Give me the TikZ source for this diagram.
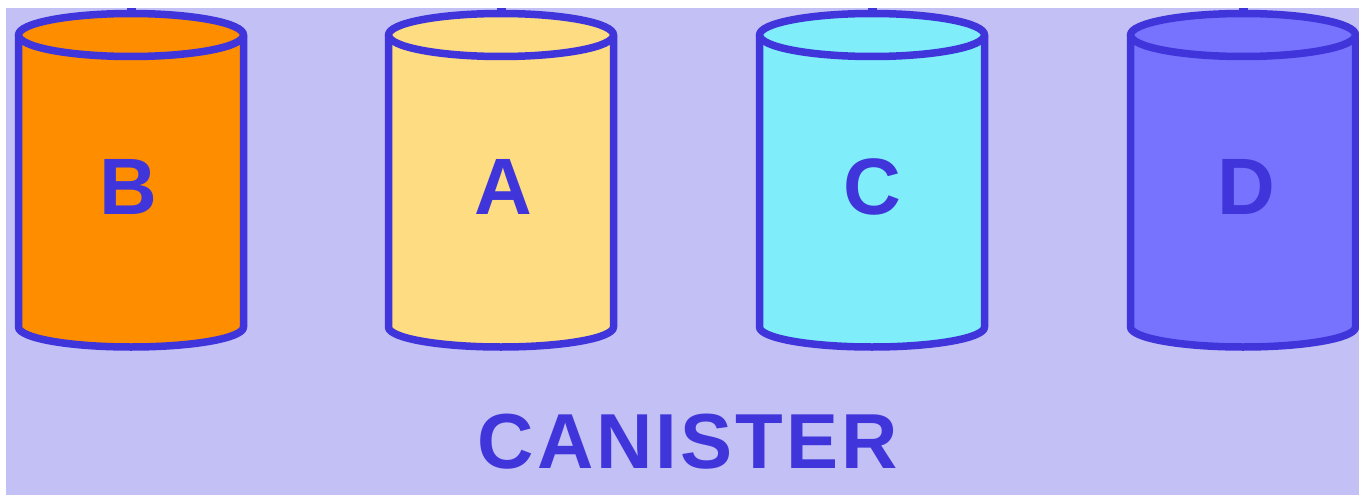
\documentclass[tikz,border=0pt]{standalone}
\usepackage{fontspec}
\setmainfont{Liberation Sans}
\definecolor{bg}{HTML}{C3C0F6}
\definecolor{ink}{HTML}{3F35DA}
\definecolor{cB}{HTML}{FE8D00}
\definecolor{cA}{HTML}{FDDC82}
\definecolor{cC}{HTML}{80EDFB}
\definecolor{cD}{HTML}{7873FE}
\tikzset{
  cyl/.style={draw=ink, line width=7.5pt, line join=round},
  lbl/.style={text=ink, font=\fontsize{80}{80}\selectfont\bfseries, inner sep=0pt, anchor=base},
  stub/.style={draw=ink, line width=9pt}
}
\newcommand{\canister}[3]{% cx, colour, name
  \fill[#2] (#1-112.5,35) -- (#1-112.5,327) arc[start angle=180,end angle=0,x radius=112.5,y radius=20] -- (#1+112.5,35) -- cycle;
  \fill[#2] (#1,35) ellipse[x radius=112.5,y radius=21.5];
  \draw[cyl] (#1-112.5,35) -- (#1-112.5,327) arc[start angle=180,end angle=0,x radius=112.5,y radius=20] -- (#1+112.5,35);
  \draw[cyl] (#1,35) ellipse[x radius=112.5,y radius=21.5];
  \coordinate (#3top) at (#1,14);
  \coordinate (#3in) at (#1,6);
  \draw[stub] (#3in) -- (#3top);
}
\begin{document}
\begin{tikzpicture}[x=1pt,y=-1pt]
\useasboundingbox (0,0) rectangle (1359,495);
\fill[white] (0,0) rectangle (1359,495);
\fill[bg] (6,8) rectangle (1359,495);
\canister{131}{cB}{b}
\canister{501}{cA}{a}
\canister{872}{cC}{c}
\canister{1243}{cD}{d}
\fill[white] (0,0) rectangle (1359,8);
\node[lbl] (lB) at (128,214) {B};
\node[lbl] (lA) at (503,214) {A};
\node[lbl] (lC) at (872,214) {C};
\node[lbl] (lD) at (1246,214) {D};
\node[lbl, font=\fontsize{78}{78}\selectfont\bfseries\addfontfeatures{LetterSpace=4}] (title) at (688,468) {CANISTER};
\end{tikzpicture}
\end{document}
